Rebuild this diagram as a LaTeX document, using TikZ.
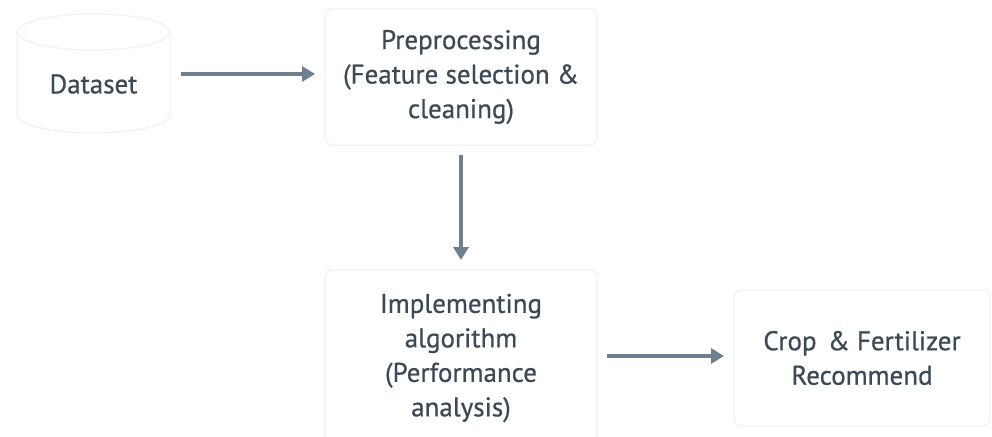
\documentclass[tikz,border=0pt]{standalone}
\usepackage{fontspec}
\setmainfont{PT Sans}[FakeBold=0.6]
\usetikzlibrary{arrows.meta}
\definecolor{txt}{HTML}{3C4956}
\definecolor{arr}{HTML}{6E7F8F}
\definecolor{edge}{HTML}{F0F0F0}
\begin{document}
\begin{tikzpicture}[x=1pt,y=-1pt,
  lbl/.style={text=txt,align=center,font=\fontsize{27}{34.5}\selectfont},
  box/.style={lbl,draw=edge,line width=1pt,fill=white,rounded corners=7pt,
    minimum width=272pt,outer sep=10pt},
  conn/.style={draw=arr,line width=4.5pt,-{Triangle[length=13pt,width=15pt]}}]
\useasboundingbox (0,0) rectangle (992,436);
\fill[white] (0,0) rectangle (992,436);
\clip (0,0) rectangle (992,436);
% cylinder
\draw[edge,line width=1pt,fill=white] (17,32) -- (17,115) arc[start angle=180,end angle=360,x radius=76.5pt,y radius=18pt] -- (170,32);
\draw[edge,line width=1pt,fill=white] (93.5,32) ellipse[x radius=76.5pt,y radius=18pt];
\node[lbl,minimum width=153pt,minimum height=100pt,outer sep=11pt] (ds) at (93.5,84) {Dataset};
\node[box,minimum height=136pt] (pre) at (461,77) {Preprocessing\\(Feature selection \&\\cleaning)};
\node[box,minimum height=176pt] (alg) at (461,358) {Implementing\\algorithm\\(Performance\\analysis)};
\node[box,minimum width=256pt,minimum height=136pt] (rec) at (862,358) {Crop\kern4pt\ \& Fertilizer\\Recommend};
\draw[conn] ([yshift=3pt]ds.east |- pre.west) -- ([yshift=3pt]pre.west);
\draw[conn] (pre.south) -- (pre.south |- alg.north);
\draw[conn] ([yshift=2pt]alg.east) -- ([yshift=2pt]rec.west);
\end{tikzpicture}
\end{document}
